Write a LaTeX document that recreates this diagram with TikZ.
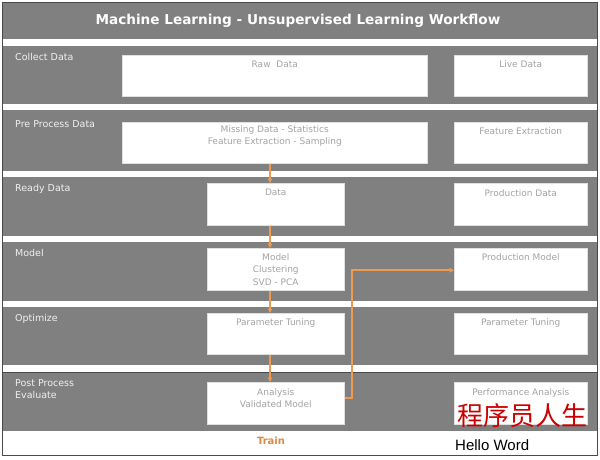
\documentclass[tikz,border=0pt]{standalone}
\usepackage{fontspec}
\setmainfont{DejaVu Sans}
\newfontfamily\cjkfont{Noto Sans CJK SC}
\newfontfamily\libsans{Liberation Sans}
\usetikzlibrary{arrows.meta}
\definecolor{bandgray}{HTML}{808080}
\definecolor{frameline}{HTML}{4A4A4A}
\definecolor{boxtxt}{HTML}{A3A3A3}
\definecolor{arr}{HTML}{F09A50}
\definecolor{traincol}{HTML}{D98A45}
\definecolor{wmred}{HTML}{CC0000}
\begin{document}
\begin{tikzpicture}[x=1pt,y=-1pt,
  wbox/.style={fill=white, draw=black!12, line width=0.5pt, inner sep=0, anchor=north west},
  btext/.style={text=boxtxt, font=\fontsize{9}{12.8}\selectfont, align=center, anchor=north, inner sep=0},
  lbl/.style={text=white!94!black, font=\fontsize{9.5}{12}\selectfont, align=left, anchor=north west, inner sep=0},
  flow/.style={draw=arr, line width=1.6pt, -{Triangle[length=4.5pt,width=4.5pt]}},
]
\useasboundingbox (0,0) rectangle (600,459);
\fill[white] (0,0) rectangle (600,459);
% title bar and bands
\fill[bandgray] (3,3) rectangle (597,39);
\fill[bandgray] (3,46) rectangle (597,104);
\fill[bandgray] (3,110) rectangle (597,171);
\fill[bandgray] (3,177) rectangle (597,236);
\fill[bandgray] (3,242) rectangle (597,301);
\fill[bandgray] (3,307) rectangle (597,365);
\fill[bandgray] (3,373) rectangle (597,431);
\draw[frameline, line width=0.8pt] (3,372.5) -- (597,372.5);
\draw[frameline, line width=1pt] (2.5,2.5) rectangle (597.5,455.5);

\node[text=white, font=\bfseries\fontsize{13.6}{15}\selectfont] (title) at (298,21) {Machine Learning - Unsupervised Learning Workflow};

% row labels
\node[lbl] (l1) at (15,53.5) {Collect Data};
\node[lbl] (l2) at (15,120.5) {Pre Process Data};
\node[lbl] (l3) at (15,184.5) {Ready Data};
\node[lbl] (l4) at (15,249.5) {Model};
\node[lbl] (l5) at (15,314.5) {Optimize};
\node[lbl] (l6) at (15,379.5) {Post Process\\Evaluate};

% boxes
\node[wbox, minimum width=305pt, minimum height=41pt] (raw) at (122,55) {};
\node[wbox, minimum width=133pt, minimum height=41pt] (live) at (454,55) {};
\node[wbox, minimum width=305pt, minimum height=41pt] (pre) at (122,122) {};
\node[wbox, minimum width=133pt, minimum height=41pt] (fe) at (454,122) {};
\node[wbox, minimum width=137pt, minimum height=42pt] (data) at (207,183) {};
\node[wbox, minimum width=133pt, minimum height=42pt] (pd) at (454,183) {};
\node[wbox, minimum width=137pt, minimum height=42pt] (model) at (207,248) {};
\node[wbox, minimum width=133pt, minimum height=42pt] (pm) at (454,248) {};
\node[wbox, minimum width=137pt, minimum height=41pt] (pt) at (207,313) {};
\node[wbox, minimum width=133pt, minimum height=41pt] (pt2) at (454,313) {};
\node[wbox, minimum width=137pt, minimum height=42pt] (ana) at (207,382) {};
\node[wbox, minimum width=133pt, minimum height=42pt] (perf) at (454,382) {};

% box texts
\node[btext] (rawt) at ([yshift=-5.5pt]raw.north) {Raw\ \ Data};
\node[btext] (livet) at ([yshift=-5.5pt]live.north) {Live Data};
\node[btext] (pret) at ([yshift=-3pt]pre.north) {Missing Data - Statistics\\Feature Extraction - Sampling};
\node[btext] (fet) at ([yshift=-5.5pt]fe.north) {Feature Extraction};
\node[btext] (datat) at ([yshift=-6pt]data.north) {Data};
\node[btext] (pdt) at ([yshift=-6pt]pd.north) {Production Data};
\node[btext] (modelt) at ([yshift=-5pt]model.north) {Model\\Clustering\\SVD - PCA};
\node[btext] (pmt) at ([yshift=-5pt]pm.north) {Production Model};
\node[btext] (ptt) at ([yshift=-5pt]pt.north) {Parameter Tuning};
\node[btext] (pt2t) at ([yshift=-5pt]pt2.north) {Parameter Tuning};
\node[btext] (anat) at ([yshift=-6pt]ana.north) {Analysis\\Validated Model};
\node[btext] (perft) at ([yshift=-6pt]perf.north) {Performance Analysis};

% connectors
\coordinate (ax) at (270,0);
\coordinate (elb) at (352,0);
\draw[flow] (pre.south -| ax) -- (data.north -| ax);
\draw[flow] (data.south -| ax) -- (model.north -| ax);
\draw[flow] (model.south -| ax) -- (pt.north -| ax);
\draw[flow] (pt.south -| ax) -- (ana.north -| ax);
\draw[flow] ([yshift=5pt]ana.east) -- ([yshift=5pt]ana.east -| elb) |- ([yshift=-1pt]pm.west);

\node[text=traincol, font=\bfseries\fontsize{10}{12}\selectfont] (train) at (271,441) {Train};

% watermark
\node[text=wmred, font=\cjkfont\fontsize{26}{26}\selectfont, inner sep=0] (wm1) at (522,416) {程序员人生};
\node[text=black, font=\libsans\fontsize{15}{15}\selectfont, inner sep=0, anchor=west] (wm2) at (455,445) {Hello Word};
\end{tikzpicture}
\end{document}
